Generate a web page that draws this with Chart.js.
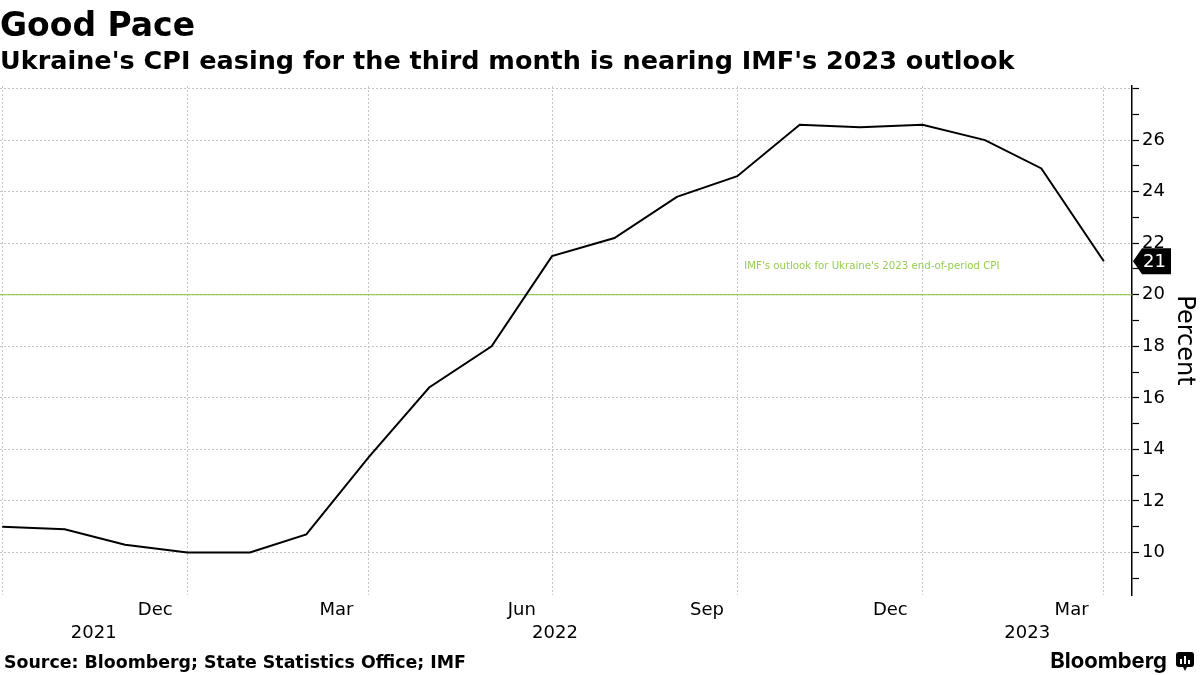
<!DOCTYPE html>
<html>
<head>
<meta charset="utf-8">
<title>Good Pace</title>
<script src="https://cdn.jsdelivr.net/npm/chart.js@4.4.1/dist/chart.umd.min.js"></script>
<style>
  html, body { margin: 0; padding: 0; background: #fff; }
  #wrap { width: 1200px; height: 675px; }
</style>
</head>
<body>
<div id="wrap"><canvas id="cpiChart" width="1200" height="675"></canvas></div>
<script>
// month-end dates of each reading
const dates = ['2021-09-30', '2021-10-31', '2021-11-30', '2021-12-31', '2022-01-31', '2022-02-28',
    '2022-03-31', '2022-04-30', '2022-05-31', '2022-06-30', '2022-07-31', '2022-08-31',
    '2022-09-30', '2022-10-31', '2022-11-30', '2022-12-31', '2023-01-31', '2023-02-28', '2023-03-31'];
const cpi = [11.0, 10.9, 10.3, 10.0, 10.0, 10.7, 13.7, 16.4, 18.0, 21.5, 22.2, 23.8,
    24.6, 26.6, 26.5, 26.6, 26.0, 24.9, 21.3];
const imfTarget = 20;

// x axis: gridlines at quarter ends, month labels at mid-month
const gridDates = ['2021-09-30', '2021-12-31', '2022-03-31', '2022-06-30', '2022-09-30', '2022-12-31', '2023-03-31'];
const monthTickDates = ['2021-12-15', '2022-03-15', '2022-06-15', '2022-09-15', '2022-12-15', '2023-03-15'];
const monthLabels = ['Dec', 'Mar', 'Jun', 'Sep', 'Dec', 'Mar'];
const yearLabels = ['2021', '2022', '2023'];
const yearEnds = ['2021-12-31', '2022-12-31'];

// y axis
const yMin = 8.35, yMax = 28.1;
const yTicks = [9, 10, 11, 12, 13, 14, 15, 16, 17, 18, 19, 20, 21, 22, 23, 24, 25, 26, 27, 28];
const yLabelled = [10, 12, 14, 16, 18, 20, 22, 24, 26];

const day = s => Date.parse(s) / 86400000;
const xMin = day(dates[0]) - 1.1;
const xMax = day('2023-04-14');

const points = dates.map((d, i) => ({ x: day(d), y: cpi[i] }));
const targetLine = [{ x: xMin, y: imfTarget }, { x: xMax, y: imfTarget }];

const font = '"DejaVu Sans", Verdana, sans-serif';

const extras = {
    id: 'extras',
    afterDatasetsDraw(chart) {
        const ctx = chart.ctx;
        const xs = chart.scales.x, ys = chart.scales.y;
        const area = chart.chartArea;

        // annotation for IMF line
        ctx.save();
        ctx.fillStyle = '#96cc55';
        ctx.font = '10.2px ' + font;
        ctx.textBaseline = 'middle';
        ctx.fillText("IMF's outlook for Ukraine's 2023 end-of-period CPI",
            xs.getPixelForValue(day('2022-09-30')) + 7, ys.getPixelForValue(imfTarget) - 28);
        ctx.restore();

        // last value badge
        const meta = chart.getDatasetMeta(0);
        const last = meta.data[meta.data.length - 1];
        const y = last.y, x0 = area.right + 1;
        ctx.save();
        ctx.fillStyle = '#000';
        ctx.beginPath();
        ctx.moveTo(x0, y);
        ctx.lineTo(x0 + 9, y - 13);
        ctx.lineTo(x0 + 38, y - 13);
        ctx.lineTo(x0 + 38, y + 13);
        ctx.lineTo(x0 + 9, y + 13);
        ctx.closePath();
        ctx.fill();
        ctx.fillStyle = '#fff';
        ctx.font = '18px ' + font;
        ctx.textBaseline = 'middle';
        ctx.fillText(String(Math.round(cpi[cpi.length - 1])), x0 + 10, y + 1);
        ctx.restore();
    },
    afterDraw(chart) {
        const ctx = chart.ctx;
        ctx.save();
        ctx.fillStyle = '#000';
        ctx.textBaseline = 'alphabetic';
        ctx.font = 'bold 33px ' + font;
        ctx.fillText('Good Pace', 0, 36);
        ctx.font = 'bold 25.5px ' + font;
        ctx.fillText("Ukraine's CPI easing for the third month is nearing IMF's 2023 outlook", 0, 69);
        ctx.font = 'bold 17.4px ' + font;
        ctx.fillText('Source: Bloomberg; State Statistics Office; IMF', 4, 668);

        ctx.font = 'bold 22px Inter, Roboto, sans-serif';
        ctx.textAlign = 'right';
        ctx.fillText('Bloomberg', 1167, 668);
        // little logo mark
        ctx.beginPath();
        ctx.roundRect(1176, 652, 18, 15, 3);
        ctx.fill();
        ctx.beginPath();
        ctx.moveTo(1183, 667);
        ctx.lineTo(1185, 671);
        ctx.lineTo(1187, 667);
        ctx.fill();
        ctx.fillStyle = '#fff';
        ctx.fillRect(1180, 659, 2, 5);
        ctx.fillRect(1184, 656, 2, 8);
        ctx.fillRect(1188, 660, 2, 4);
        ctx.restore();
    }
};

new Chart(document.getElementById('cpiChart'), {
    type: 'line',
    data: {
        datasets: [{
            label: 'Ukraine CPI YoY',
            data: points,
            borderColor: '#000',
            borderWidth: 2,
            pointRadius: 0,
            tension: 0
        }, {
            label: 'IMF outlook',
            data: targetLine,
            borderColor: '#86c23a',
            borderWidth: 1,
            pointRadius: 0
        }]
    },
    options: {
        responsive: false,
        animation: false,
        devicePixelRatio: 1,
        layout: { padding: { top: 86, bottom: 35, left: 0, right: 0 } },
        plugins: {
            legend: { display: false },
            tooltip: { enabled: false }
        },
        scales: {
            x: {
                type: 'linear',
                position: 'bottom',
                weight: 0,
                min: xMin,
                max: xMax,
                afterBuildTicks: s => { s.ticks = gridDates.map(d => ({ value: day(d) })); },
                afterFit: s => { s.height = 0; },
                ticks: { display: false },
                grid: { color: '#c4c4c4', drawTicks: false },
                border: { display: false, dash: [2, 2] }
            },
            xm: {
                type: 'linear',
                position: 'bottom',
                weight: 1,
                min: xMin,
                max: xMax,
                afterBuildTicks: s => { s.ticks = monthTickDates.map(d => ({ value: day(d) })); },
                afterFit: s => { s.height = 25; },
                ticks: {
                    padding: 5,
                    maxRotation: 0,
                    autoSkip: false,
                    color: '#000',
                    font: { family: font, size: 18 },
                    callback: (v, i) => monthLabels[i]
                },
                grid: { display: false, drawTicks: false },
                border: { display: false }
            },
            xy: {
                type: 'linear',
                position: 'bottom',
                weight: 2,
                min: xMin,
                max: xMax,
                afterBuildTicks: s => {
                    const b1 = day(yearEnds[0]), b2 = day(yearEnds[1]);
                    s.ticks = [(xMin + b1) / 2, (b1 + b2) / 2, (b2 + xMax) / 2].map(v => ({ value: v }));
                },
                afterFit: s => { s.height = 20; },
                ticks: {
                    padding: 3,
                    maxRotation: 0,
                    autoSkip: false,
                    color: '#000',
                    font: { family: font, size: 18 },
                    callback: (v, i) => yearLabels[i]
                },
                grid: { display: false, drawTicks: false },
                border: { display: false }
            },
            y: {
                type: 'linear',
                position: 'right',
                min: yMin,
                max: yMax,
                afterBuildTicks: s => { s.ticks = yTicks.map(v => ({ value: v })); },
                afterFit: s => { s.width = 68; },
                ticks: {
                    padding: 3,
                    color: '#000',
                    font: { family: font, size: 18 },
                    callback: v => (yLabelled.includes(v) ? String(v) : '')
                },
                grid: {
                    color: c => (c.tick && c.tick.value % 2 === 0 ? '#c4c4c4' : 'rgba(0,0,0,0)'),
                    tickColor: '#000',
                    tickLength: 7,
                    tickWidth: 1.2
                },
                border: { display: true, color: '#000', width: 1.5, dash: [2, 2] },
                title: {
                    display: true,
                    text: 'Percent',
                    color: '#000',
                    font: { family: font, size: 24 },
                    padding: { top: 1, bottom: 1 }
                }
            }
        }
    },
    plugins: [extras]
});
</script>
</body>
</html>
